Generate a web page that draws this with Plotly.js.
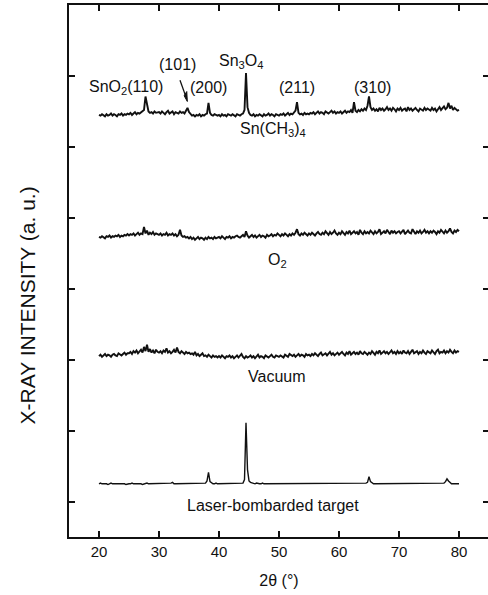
<!DOCTYPE html>
<html>
<head>
<meta charset="utf-8">
<script src="https://cdn.plot.ly/plotly-3.0.1.min.js"></script>
<style>
  html, body { margin: 0; padding: 0; overflow: hidden; background: #fff; }
  #chart { width: 492px; height: 595px; }
</style>
</head>
<body>
<div id="chart"></div>
<script>
// XRD scans, 2θ = 20°..80° in 0.25° steps (241 points), intensities in counts.
const twoThetaStart = 20;
const twoThetaStep = 0.25;

const laserTarget = [
  10,11,10,10,11,10,9,10,11,10,10,11,10,10,10,11,10,10,9,10,
  10,10,11,10,10,10,11,10,10,9,10,10,11,10,10,10,10,11,10,10,
  10,10,11,10,10,10,10,10,11,12,10,10,10,10,11,10,10,10,10,11,
  10,10,10,11,10,10,10,11,10,10,10,11,14,26,13,11,10,10,11,10,
  10,10,11,10,10,10,10,11,10,10,10,10,11,10,10,10,11,16,96,30,
  14,12,11,10,10,11,10,10,10,11,10,10,10,10,11,10,10,11,10,10,
  10,11,10,10,10,10,11,10,10,10,11,10,10,10,10,11,10,10,10,11,
  10,10,10,11,10,10,10,10,11,10,10,10,11,10,10,10,10,11,10,10,
  10,10,11,10,10,10,10,11,10,10,10,10,11,10,10,10,11,10,11,12,
  20,13,11,10,10,10,11,10,10,10,10,11,10,10,10,10,11,10,10,10,
  10,11,10,10,10,10,11,10,10,10,10,10,11,10,10,10,10,11,10,10,
  10,10,11,10,10,10,10,11,10,10,11,13,17,14,12,10,10,10,11,10,
  10
];

const vacuum = [
  17,19,16,18,20,17,19,18,16,19,20,18,17,21,19,18,20,22,19,21,
  21,23,20,24,22,25,21,23,26,22,30,24,33,23,27,22,25,21,26,23,
  22,24,21,25,23,28,22,24,21,23,26,22,29,23,21,24,22,20,23,21,
  22,20,21,19,23,18,20,17,19,21,17,18,16,19,17,15,18,16,17,15,
  17,15,18,16,14,17,16,18,15,17,14,16,18,15,17,20,16,14,17,15,
  16,18,15,17,14,16,19,15,17,16,14,18,16,15,17,19,16,15,18,17,
  16,18,17,15,19,17,16,20,18,17,19,16,18,20,17,19,18,16,20,18,
  19,17,20,18,21,19,17,20,22,18,19,21,18,20,23,19,21,18,20,22,
  19,21,23,20,18,22,20,24,19,21,23,20,22,19,24,21,20,23,21,19,
  22,20,24,21,19,23,21,25,20,22,24,21,23,20,22,25,21,23,20,24,
  21,23,20,25,22,21,24,20,23,26,21,22,24,20,23,21,25,22,20,24,
  23,21,25,22,20,24,26,21,23,22,25,21,24,22,26,23,21,25,22,24,
  23
];

const oxygen = [
  17,16,18,17,15,18,17,19,16,18,17,19,18,20,17,19,18,20,19,21,
  19,21,20,22,19,21,23,20,22,21,31,22,26,20,23,21,24,20,22,21,
  20,22,19,21,20,23,19,21,20,22,19,21,18,20,27,19,17,18,16,17,
  15,17,14,16,13,15,17,14,16,15,13,16,14,17,15,16,14,17,15,16,
  17,15,18,16,14,17,16,18,15,17,16,18,19,17,16,18,20,17,25,19,
  16,18,20,17,19,16,18,20,17,19,18,16,20,18,19,21,18,20,19,22,
  20,18,21,19,22,20,18,21,19,22,20,23,28,21,19,22,20,23,21,19,
  22,20,23,21,19,22,24,21,20,23,21,25,22,20,24,21,23,26,22,20,
  23,21,25,22,20,24,22,26,21,23,25,22,24,20,27,23,21,25,22,24,
  22,26,23,21,25,22,24,28,21,23,25,22,27,24,21,26,23,25,22,24,
  25,22,24,27,21,24,26,23,22,28,24,21,25,23,26,22,24,27,23,25,
  22,25,23,26,24,21,25,23,27,24,22,26,23,25,29,24,22,26,24,27,
  25
];

const tetramethyltin = [
  17,16,18,17,15,18,16,17,19,16,18,17,15,18,17,19,16,18,17,19,
  18,20,17,19,21,18,20,19,21,22,24,43,30,22,20,21,19,22,20,21,
  21,19,22,20,18,21,23,19,20,22,18,21,20,19,22,20,21,19,23,27,
  21,18,16,17,15,17,16,18,15,17,16,18,19,34,20,17,16,18,17,16,
  17,15,18,16,17,15,18,17,16,18,17,15,18,17,16,18,19,24,76,28,
  20,17,16,18,15,17,16,18,17,15,18,16,17,19,16,18,17,15,18,17,
  16,18,17,19,16,18,20,17,19,18,21,23,35,20,18,19,17,20,18,19,
  18,20,19,21,18,20,22,19,21,20,18,22,20,19,21,23,20,22,19,21,
  20,22,19,21,23,20,22,21,24,20,35,23,21,24,22,25,23,26,24,30,
  43,28,24,26,23,25,22,27,24,26,23,25,28,24,26,23,27,25,22,26,
  24,27,23,25,26,22,28,24,26,23,25,27,24,22,26,25,23,27,24,26,
  25,23,27,24,26,22,25,28,24,26,29,25,27,34,26,30,24,27,25,23,
  24
];

const xTickVals = [20, 30, 40, 50, 60, 70, 80];
const yTickVals = [0, 1, 2, 3, 4, 5, 6];

// Stacking: each scan is shifted up by its own offset (axis units); 1 count = 0.01 unit.
const countScale = 0.01;
const scans = [
  { counts: laserTarget,     offset: 0.15, width: 1.4 },
  { counts: vacuum,          offset: 1.88, width: 1.9 },
  { counts: oxygen,          offset: 3.56, width: 1.9 },
  { counts: tetramethyltin,  offset: 5.28, width: 1.9 }
];

const twoTheta = laserTarget.map((_, i) => twoThetaStart + i * twoThetaStep);

const traces = scans.map(s => ({
  type: 'scatter',
  mode: 'lines',
  x: twoTheta,
  y: s.counts.map(c => s.offset + c * countScale),
  line: { color: '#111', width: s.width },
  hoverinfo: 'skip',
  showlegend: false
}));

const fontFamily = 'Arial, Liberation Sans, sans-serif';
const labelFont = { family: fontFamily, size: 16, color: '#111' };

const textLabels = [
  { text: 'SnO<sub>2</sub>(110)', x: 24.5, y: 5.83 },
  { text: '(101)', x: 33.0, y: 6.155 },
  { text: '(200)', x: 38.33, y: 5.83 },
  { text: 'Sn<sub>3</sub>O<sub>4</sub>', x: 43.67, y: 6.2 },
  { text: '(211)', x: 53.0, y: 5.83 },
  { text: '(310)', x: 65.5, y: 5.83 },
  { text: 'Sn(CH<sub>3</sub>)<sub>4</sub>', x: 49.0, y: 5.24 },
  { text: 'O<sub>2</sub>', x: 49.83, y: 3.405 },
  { text: 'Vacuum', x: 49.67, y: 1.756 },
  { text: 'Laser-bombarded target', x: 49.0, y: -0.05 }
];

const annotations = textLabels.map(l => ({
  text: l.text, x: l.x, y: l.y, xref: 'x', yref: 'y',
  showarrow: false, font: labelFont, xanchor: 'center', yanchor: 'middle'
}));

// vertical axis title
annotations.push({
  text: 'X-RAY INTENSITY (a. u.)', xref: 'paper', yref: 'paper',
  x: -0.098, y: 0.435, showarrow: false, textangle: -90,
  font: { family: fontFamily, size: 21, color: '#111' },
  xanchor: 'center', yanchor: 'middle'
});

const axisCommon = {
  showgrid: false, zeroline: false, showline: true, linecolor: '#111', linewidth: 1.8,
  ticks: 'inside', ticklen: 6, tickwidth: 1.6, tickcolor: '#111', mirror: 'allticks'
};

const layout = {
  width: 492, height: 595,
  margin: { l: 69, r: 3, t: 5, b: 58 },
  paper_bgcolor: '#fff', plot_bgcolor: '#fff',
  xaxis: Object.assign({}, axisCommon, {
    range: [15, 85], tickmode: 'array', tickvals: xTickVals,
    tickfont: { family: fontFamily, size: 15, color: '#111' },
    title: { text: '2θ (°)', font: { family: fontFamily, size: 16, color: '#111' }, standoff: 16 }
  }),
  yaxis: Object.assign({}, axisCommon, {
    range: [-0.5, 7], tickmode: 'array', tickvals: yTickVals, showticklabels: false
  }),
  // arrow pointing at the (101) reflection
  shapes: [{
    type: 'line', xref: 'x', yref: 'y', x0: 33.5, y0: 5.94, x1: 34.6, y1: 5.68,
    line: { color: '#111', width: 1.3 }
  }, {
    type: 'path', xref: 'x', yref: 'y',
    path: 'M 34.2,5.72 L 34.72,5.64 L 34.63,5.78 Z',
    fillcolor: '#111', line: { color: '#111', width: 1 }
  }],
  annotations: annotations
};

Plotly.newPlot('chart', traces, layout, { displayModeBar: false });
</script>
</body>
</html>
